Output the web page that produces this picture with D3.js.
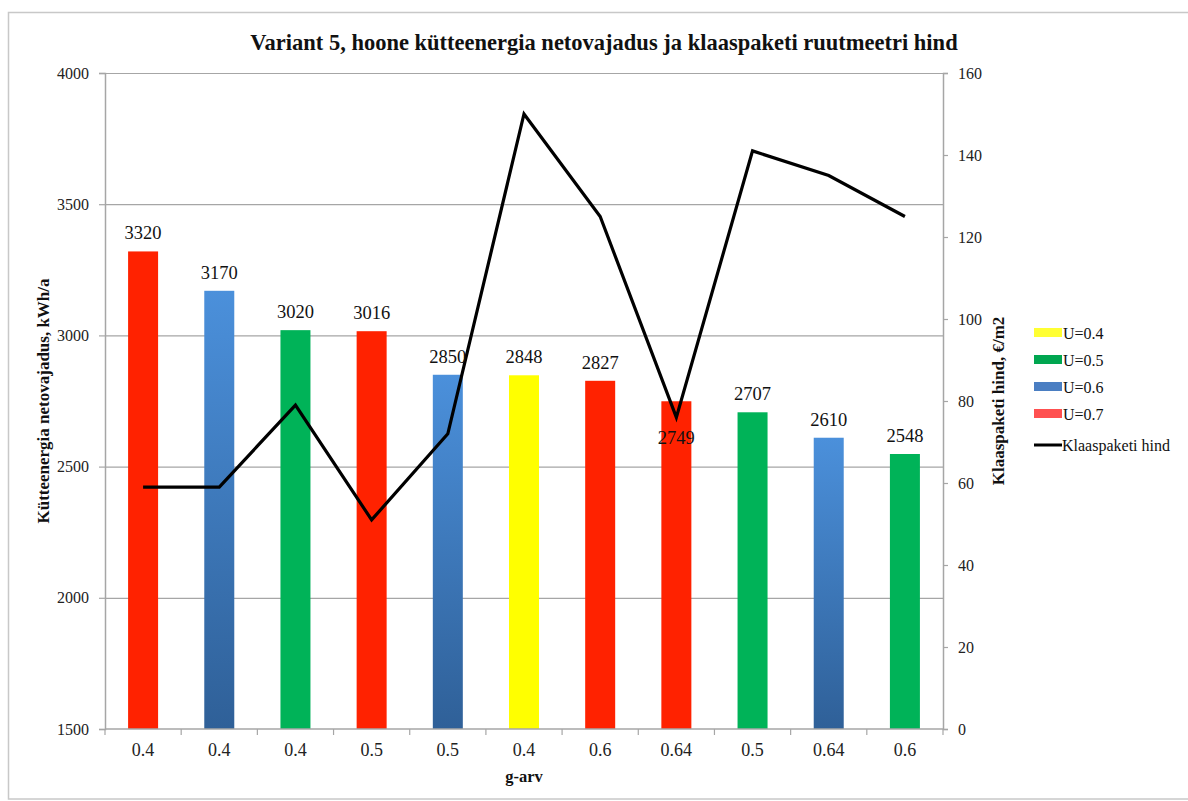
<!DOCTYPE html>
<html>
<head>
<meta charset="utf-8">
<script src="https://cdn.jsdelivr.net/npm/d3@7"></script>
<style>
  html, body { margin: 0; padding: 0; background: #fff; }
  svg { display: block; }
  svg text { font-family: "Liberation Serif", "DejaVu Serif", serif !important; }
</style>
</head>
<body>
<svg id="chart" width="1188" height="801"></svg>
<script>
// g-values on the category axis
const gValues = ["0.4", "0.4", "0.4", "0.5", "0.5", "0.4", "0.6", "0.64", "0.5", "0.64", "0.6"];
// U-value group of each bar
const uGroups = ["U=0.7", "U=0.6", "U=0.5", "U=0.7", "U=0.6", "U=0.4", "U=0.7", "U=0.7", "U=0.5", "U=0.6", "U=0.5"];
// heating energy need, kWh/a
const energy = [3320, 3170, 3020, 3016, 2850, 2848, 2827, 2749, 2707, 2610, 2548];
// glazing unit price, €/m2
const price = [59, 59, 79, 51, 72, 150, 125, 76, 141, 135, 125];
// label placement per bar ("above" or "inside")
const labelPlace = ["above", "above", "above", "above", "above", "above", "above", "inside", "above", "above", "above"];
const leftTicks = [1500, 2000, 2500, 3000, 3500, 4000];
const rightTicks = [0, 20, 40, 60, 80, 100, 120, 140, 160];
const legendGroups = ["U=0.4", "U=0.5", "U=0.6", "U=0.7"];
const lineName = "Klaaspaketi hind";

const barFill = { "U=0.4": "#ffff00", "U=0.5": "#00b358", "U=0.6": "url(#blueGrad)", "U=0.7": "#ff2200" };
const legendFill = { "U=0.4": "#ffff33", "U=0.5": "#00a650", "U=0.6": "#4a7ec2", "U=0.7": "#ff5050" };

const svg = d3.select("#chart");
const m = { left: 105, right: 943, top: 73, bottom: 729 };

const defs = svg.append("defs");
const grad = defs.append("linearGradient").attr("id", "blueGrad")
  .attr("x1", 0).attr("y1", 0).attr("x2", 0).attr("y2", 1);
grad.append("stop").attr("offset", "0%").attr("stop-color", "#4b90db");
grad.append("stop").attr("offset", "100%").attr("stop-color", "#2f6098");

// outer frame
svg.append("rect").attr("x", 8.5).attr("y", 12.5).attr("width", 1200).attr("height", 786.5)
  .attr("fill", "none").attr("stroke", "#c8c8c8").attr("stroke-width", 1.5);

const xBand = d3.scaleBand().domain(d3.range(gValues.length)).range([m.left, m.right]);
const yL = d3.scaleLinear().domain([1500, 4000]).range([m.bottom, m.top]);
const yR = d3.scaleLinear().domain([0, 160]).range([m.bottom, m.top]);
const cx = i => xBand(i) + xBand.bandwidth() / 2;

// horizontal gridlines
svg.append("g").selectAll("line").data(leftTicks.filter(t => t > 1500)).join("line")
  .attr("x1", m.left).attr("x2", m.right)
  .attr("y1", d => yL(d) + 0.5).attr("y2", d => yL(d) + 0.5)
  .attr("stroke", "#a6a6a6").attr("stroke-width", 1.2);

// bars
svg.append("g").selectAll("rect").data(energy).join("rect")
  .attr("x", (d, i) => cx(i) - 15)
  .attr("width", 30)
  .attr("y", d => yL(d))
  .attr("height", d => m.bottom - yL(d))
  .attr("fill", (d, i) => barFill[uGroups[i]]);

// left axis
const axL = svg.append("g").attr("transform", `translate(${m.left},0)`)
  .call(d3.axisLeft(yL).tickValues(leftTicks).tickSize(6).tickPadding(10).tickFormat(d3.format("d")));
// right axis
const axR = svg.append("g").attr("transform", `translate(${m.right},0)`)
  .call(d3.axisRight(yR).tickValues(rightTicks).tickSize(5).tickPadding(10).tickFormat(d3.format("d")));
// bottom axis with ticks between categories
const axB = svg.append("g").attr("transform", `translate(0,${m.bottom})`)
  .call(d3.axisBottom(xBand).tickSize(0).tickPadding(14).tickFormat(i => gValues[i]));
svg.append("g").selectAll("line").data(d3.range(gValues.length + 1)).join("line")
  .attr("x1", i => m.left + i * xBand.bandwidth()).attr("x2", i => m.left + i * xBand.bandwidth())
  .attr("y1", m.bottom).attr("y2", m.bottom + 6)
  .attr("stroke", "#a6a6a6").attr("stroke-width", 1.2);

[axL, axR, axB].forEach(a => {
  a.attr("font-family", null);
  a.select(".domain").attr("stroke", "#a6a6a6").attr("stroke-width", 1.5);
  a.selectAll(".tick line").attr("stroke", "#a6a6a6").attr("stroke-width", 1.2);
  a.selectAll("text").attr("fill", "#222");
});
axL.attr("font-size", 16);
axR.attr("font-size", 16);
axB.attr("font-size", 18);
axB.select(".domain").attr("d", `M${m.left},0H${m.right}`);

// price line
const line = d3.line().x((d, i) => cx(i)).y(d => yR(d));
svg.append("path").datum(price).attr("d", line)
  .attr("fill", "none").attr("stroke", "#000").attr("stroke-width", 3.2).attr("stroke-linejoin", "miter");

// value labels
svg.append("g").selectAll("text").data(energy).join("text")
  .attr("x", (d, i) => cx(i))
  .attr("y", (d, i) => labelPlace[i] === "above" ? yL(d) - 12 : yL(d) + 43)
  .attr("text-anchor", "middle").attr("font-size", 18.5).attr("fill", "#111")
  .text(d => d);

// title
svg.append("text").attr("x", 604).attr("y", 50).attr("text-anchor", "middle")
  .attr("font-size", 22.5).attr("font-weight", "bold").attr("fill", "#111")
  .text("Variant 5, hoone kütteenergia netovajadus ja klaaspaketi ruutmeetri hind");

// axis titles
svg.append("text").attr("transform", `translate(49,${(m.top + m.bottom) / 2}) rotate(-90)`)
  .attr("text-anchor", "middle").attr("font-size", 17).attr("font-weight", "bold").attr("fill", "#111")
  .text("Kütteenergia netovajadus, kWh/a");
svg.append("text").attr("transform", `translate(1004,${(m.top + m.bottom) / 2}) rotate(-90)`)
  .attr("text-anchor", "middle").attr("font-size", 17).attr("font-weight", "bold").attr("fill", "#111")
  .text("Klaaspaketi hind, €/m2");
svg.append("text").attr("x", 524).attr("y", 782).attr("text-anchor", "middle")
  .attr("font-size", 16.5).attr("font-weight", "bold").attr("fill", "#111")
  .text("g-arv");

// legend
const lg = svg.append("g").attr("transform", "translate(1034,333)");
const items = lg.selectAll("g").data(legendGroups).join("g")
  .attr("transform", (d, i) => `translate(0,${i * 27})`);
items.append("rect").attr("x", 0).attr("y", -5).attr("width", 28).attr("height", 9)
  .attr("fill", d => legendFill[d]);
items.append("text").attr("x", 29).attr("y", 6).attr("font-size", 16).attr("fill", "#111").text(d => d);
const li = lg.append("g").attr("transform", `translate(0,${4 * 27 + 4})`);
li.append("line").attr("x1", 0).attr("x2", 28).attr("y1", 0).attr("y2", 0)
  .attr("stroke", "#000").attr("stroke-width", 3);
li.append("text").attr("x", 28).attr("y", 6).attr("font-size", 16).attr("fill", "#111").text(lineName);
</script>
</body>
</html>
